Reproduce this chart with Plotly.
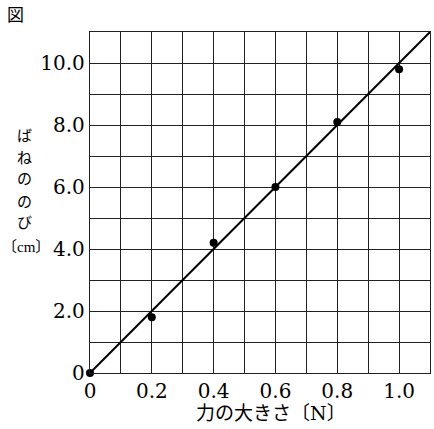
import plotly.graph_objects as go

force = [0, 0.2, 0.4, 0.6, 0.8, 1.0]
stretch = [0, 1.8, 4.2, 6.0, 8.1, 9.8]
line_x = [0, 1.1]
line_y = [0, 11]
x_tickvals = [0, 0.2, 0.4, 0.6, 0.8, 1.0]
x_ticktext = ["0", "0.2", "0.4", "0.6", "0.8", "1.0"]
y_tickvals = [0, 2, 4, 6, 8, 10]
y_ticktext = ["0", "2.0", "4.0", "6.0", "8.0", "10.0"]
y_title = "ばねののび"

W, H = 434, 429
L, R, T, B = 90, 4, 32, 56
pw, ph = W - L - R, H - T - B

def px(x):
    return (x - L) / pw

def py(y):
    return (H - B - y) / ph

fig = go.Figure()
fig.add_trace(go.Scatter(x=line_x, y=line_y, mode="lines",
                         line=dict(color="black", width=2), hoverinfo="skip"))
fig.add_trace(go.Scatter(x=force, y=stretch, mode="markers",
                         marker=dict(color="black", size=8), cliponaxis=False))

serif = "DejaVu Serif, Noto Sans CJK JP"
grid = dict(showgrid=True, gridcolor="#222", gridwidth=1.3,
            showline=True, mirror=True, linecolor="#222", linewidth=1.3,
            zeroline=False, ticks="", tickfont=dict(size=20, family=serif))
fig.update_layout(
    width=W, height=H, margin=dict(l=L, r=R, t=T, b=B),
    paper_bgcolor="white", plot_bgcolor="white", showlegend=False,
    font=dict(family=serif, color="black"),
    xaxis=dict(range=[0, 1.1], tickvals=x_tickvals, ticktext=x_ticktext,
               minor=dict(dtick=0.1, showgrid=True, gridcolor="#222", gridwidth=1.3),
               **grid),
    yaxis=dict(range=[0, 11], tickvals=y_tickvals, ticktext=y_ticktext,
               minor=dict(dtick=1, showgrid=True, gridcolor="#222", gridwidth=1.3),
               **grid),
)

def ann(text, x, y, size, family, xanchor="center"):
    fig.add_annotation(text=text, xref="paper", yref="paper", x=px(x), y=py(y),
                       xanchor=xanchor, yanchor="middle", showarrow=False,
                       font=dict(size=size, family=family))

ann("図", 15, 13, 17, "Noto Sans CJK JP")
for i, ch in enumerate(y_title):
    ann(ch, 24, 134 + 22 * i, 15, "Noto Sans CJK JP")
ann("〔cm〕", 0, 247, 15, "Liberation Serif, Noto Sans CJK JP", xanchor="left")
ann("力の大きさ〔N〕", 271, 413, 19, serif)

fig.write_html("out.html", config={"displayModeBar": False},
               post_script="document.body.style.margin='0';")
